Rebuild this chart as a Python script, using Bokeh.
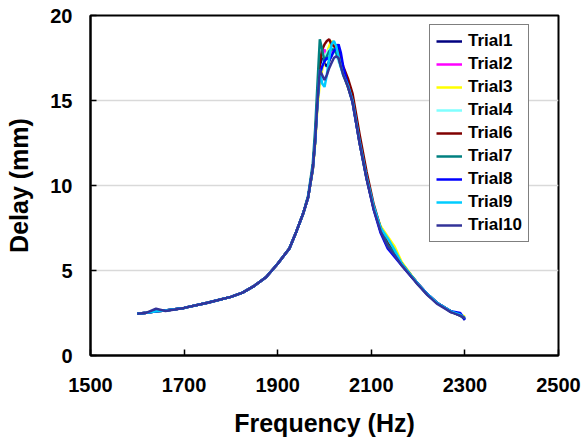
from bokeh.plotting import figure
from bokeh.models import Range1d, Legend, LegendItem, FixedTicker
from bokeh.embed import file_html
from bokeh.resources import INLINE

freq = [1600, 1620, 1640, 1660, 1700, 1750, 1800, 1825, 1850, 1875, 1900, 1925, 1940, 1955, 1965, 1975, 1980, 1985,
        1990, 1995, 2000, 2005, 2010, 2015, 2020, 2025, 2030, 2035, 2040,
        2050, 2060, 2075, 2090, 2105, 2120, 2135, 2150, 2165, 2185, 2200, 2220, 2240, 2255, 2270, 2290, 2300]

trial1 = [2.45, 2.52, 2.6, 2.65, 2.8, 3.1, 3.45, 3.7, 4.1, 4.6, 5.4, 6.3, 7.3, 8.4, 9.3, 11.0, 12.6, 15.0,
          17.0, 17.5, 17.2, 17.0, 17.3, 17.7, 18.0, 18.3, 18.0, 17.4, 16.8,
          15.9, 15.0, 12.6, 10.5, 8.7, 7.3, 6.4, 5.9, 5.35, 4.7, 4.2, 3.6, 3.1, 2.85, 2.55, 2.4, 2.1]
trial2 = [2.45, 2.52, 2.6, 2.65, 2.8, 3.1, 3.45, 3.7, 4.1, 4.6, 5.4, 6.3, 7.3, 8.4, 9.3, 11.0, 12.7, 15.2,
          17.5, 17.8, 18.0, 17.6, 17.5, 17.8, 18.0, 17.8, 17.4, 17.0, 16.6,
          15.9, 15.0, 12.6, 10.5, 8.7, 7.4, 6.6, 6.1, 5.4, 4.7, 4.2, 3.6, 3.1, 2.85, 2.6, 2.35, 2.3]
trial3 = [2.45, 2.52, 2.6, 2.65, 2.8, 3.1, 3.45, 3.7, 4.1, 4.6, 5.4, 6.3, 7.3, 8.4, 9.3, 10.9, 12.4, 14.6,
          16.0, 16.8, 17.3, 17.8, 18.2, 18.5, 18.3, 17.9, 17.5, 17.0, 16.6,
          15.8, 15.0, 12.5, 10.4, 8.7, 7.6, 7.0, 6.4, 5.5, 4.75, 4.2, 3.6, 3.1, 2.85, 2.6, 2.4, 2.3]
trial4 = [2.45, 2.52, 2.6, 2.65, 2.8, 3.1, 3.45, 3.7, 4.1, 4.6, 5.4, 6.3, 7.3, 8.4, 9.3, 11.0, 12.6, 14.9,
          16.5, 17.0, 17.5, 17.8, 18.0, 18.1, 18.0, 17.7, 17.3, 16.9, 16.5,
          15.9, 15.0, 12.6, 10.5, 8.7, 7.4, 6.7, 6.1, 5.4, 4.7, 4.2, 3.6, 3.1, 2.85, 2.6, 2.35, 2.2]
trial6 = [2.45, 2.52, 2.6, 2.65, 2.8, 3.1, 3.45, 3.7, 4.1, 4.6, 5.4, 6.3, 7.3, 8.4, 9.3, 11.0, 12.7, 15.1,
          17.2, 18.0, 18.3, 18.5, 18.6, 18.3, 18.2, 18.1, 17.8, 17.4, 17.0,
          16.3, 15.4, 13.0, 10.8, 8.9, 7.5, 6.6, 6.0, 5.4, 4.7, 4.2, 3.6, 3.1, 2.85, 2.6, 2.35, 2.2]
trial7 = [2.45, 2.52, 2.6, 2.65, 2.8, 3.1, 3.45, 3.7, 4.1, 4.6, 5.4, 6.3, 7.3, 8.4, 9.4, 11.3, 13.3, 16.0,
          18.6, 18.0, 17.3, 17.6, 17.9, 18.0, 18.0, 17.8, 17.5, 17.0, 16.6,
          15.8, 14.9, 12.5, 10.4, 8.7, 7.4, 6.5, 6.0, 5.4, 4.7, 4.2, 3.6, 3.1, 2.85, 2.6, 2.35, 2.15]
trial8 = [2.45, 2.52, 2.6, 2.65, 2.8, 3.1, 3.45, 3.7, 4.1, 4.6, 5.4, 6.3, 7.3, 8.4, 9.3, 11.0, 12.6, 14.9,
          16.5, 17.0, 17.3, 17.5, 17.4, 17.6, 17.9, 18.1, 18.3, 17.8, 17.0,
          15.9, 14.9, 12.5, 10.4, 8.6, 7.2, 6.3, 5.8, 5.3, 4.65, 4.2, 3.6, 3.1, 2.85, 2.6, 2.5, 2.1]
trial9 = [2.45, 2.52, 2.6, 2.65, 2.8, 3.1, 3.45, 3.7, 4.1, 4.6, 5.4, 6.3, 7.3, 8.4, 9.3, 11.0, 12.6, 15.0,
          16.8, 16.0, 15.8, 16.5, 17.5, 18.3, 18.5, 18.2, 17.6, 17.0, 16.5,
          15.9, 15.0, 12.6, 10.5, 8.8, 7.5, 6.9, 6.2, 5.4, 4.7, 4.2, 3.6, 3.1, 2.85, 2.6, 2.4, 2.2]
trial10 = [2.45, 2.52, 2.75, 2.62, 2.8, 3.1, 3.45, 3.7, 4.1, 4.6, 5.4, 6.3, 7.3, 8.4, 9.3, 11.0, 12.6, 15.0,
           16.8, 16.5, 16.2, 16.5, 16.9, 17.2, 17.5, 17.6, 17.5, 17.0, 16.5,
           15.8, 14.9, 12.5, 10.4, 8.6, 7.3, 6.4, 5.9, 5.3, 4.65, 4.15, 3.55, 3.05, 2.8, 2.55, 2.35, 2.2]

names = ["Trial1", "Trial2", "Trial3", "Trial4", "Trial6", "Trial7", "Trial8", "Trial9", "Trial10"]
series = [trial1, trial2, trial3, trial4, trial6, trial7, trial8, trial9, trial10]
colors = ["#000080", "#FF00FF", "#FFFF00", "#80FFFF", "#800000", "#008080", "#0000FF", "#00CCFF", "#333399"]

x_ticks = [1500, 1700, 1900, 2100, 2300, 2500]
y_ticks = [0, 5, 10, 15, 20]

FONT = "Liberation Sans"

p = figure(width=582, height=442, output_backend="svg", toolbar_location=None,
           x_range=Range1d(1500, 2500), y_range=Range1d(0, 20),
           min_border_left=90, min_border_right=24, min_border_top=15, min_border_bottom=87)

p.background_fill_color = "white"
p.border_fill_color = "white"
p.outline_line_color = "black"
p.outline_line_width = 2
p.xgrid.grid_line_color = None
p.ygrid.grid_line_color = "#D9D9D9"
p.ygrid.grid_line_width = 1.5

p.xaxis.ticker = FixedTicker(ticks=x_ticks)
p.yaxis.ticker = FixedTicker(ticks=y_ticks)

for ax in (p.xaxis[0], p.yaxis[0]):
    ax.axis_line_color = "black"
    ax.axis_line_width = 2
    ax.major_tick_in = 6
    ax.major_tick_out = 0
    ax.major_tick_line_color = "black"
    ax.major_tick_line_width = 1.5
    ax.minor_tick_line_color = None
    ax.major_label_text_font = FONT
    ax.major_label_text_font_style = "bold"
    ax.major_label_text_font_size = "20px"
    ax.major_label_text_color = "black"
    ax.axis_label_text_font = FONT
    ax.axis_label_text_font_style = "bold"
    ax.axis_label_text_font_size = "25px"
    ax.axis_label_text_color = "black"

p.xaxis.axis_label = "Frequency (Hz)"
p.yaxis.axis_label = "Delay (mm)"
p.xaxis.major_label_standoff = 22
p.yaxis.major_label_standoff = 18
p.xaxis.axis_label_standoff = 14
p.yaxis.axis_label_standoff = 14

items = []
for name, ys, c in zip(names, series, colors):
    r = p.line(freq, ys, line_color=c, line_width=2.5)
    items.append(LegendItem(label=name, renderers=[r]))

legend = Legend(items=items, location=(339, 113))
legend.label_text_font = FONT
legend.label_text_font_style = "bold"
legend.label_text_font_size = "17px"
legend.label_text_color = "black"
legend.border_line_color = "black"
legend.border_line_width = 1
legend.background_fill_color = "white"
legend.background_fill_alpha = 1
legend.padding = 6
legend.spacing = 3
legend.glyph_width = 26
legend.glyph_height = 20
legend.label_height = 20
legend.label_standoff = 6
legend.margin = 0
p.add_layout(legend, "center")

open("out.html", "w").write(file_html(p, INLINE))
